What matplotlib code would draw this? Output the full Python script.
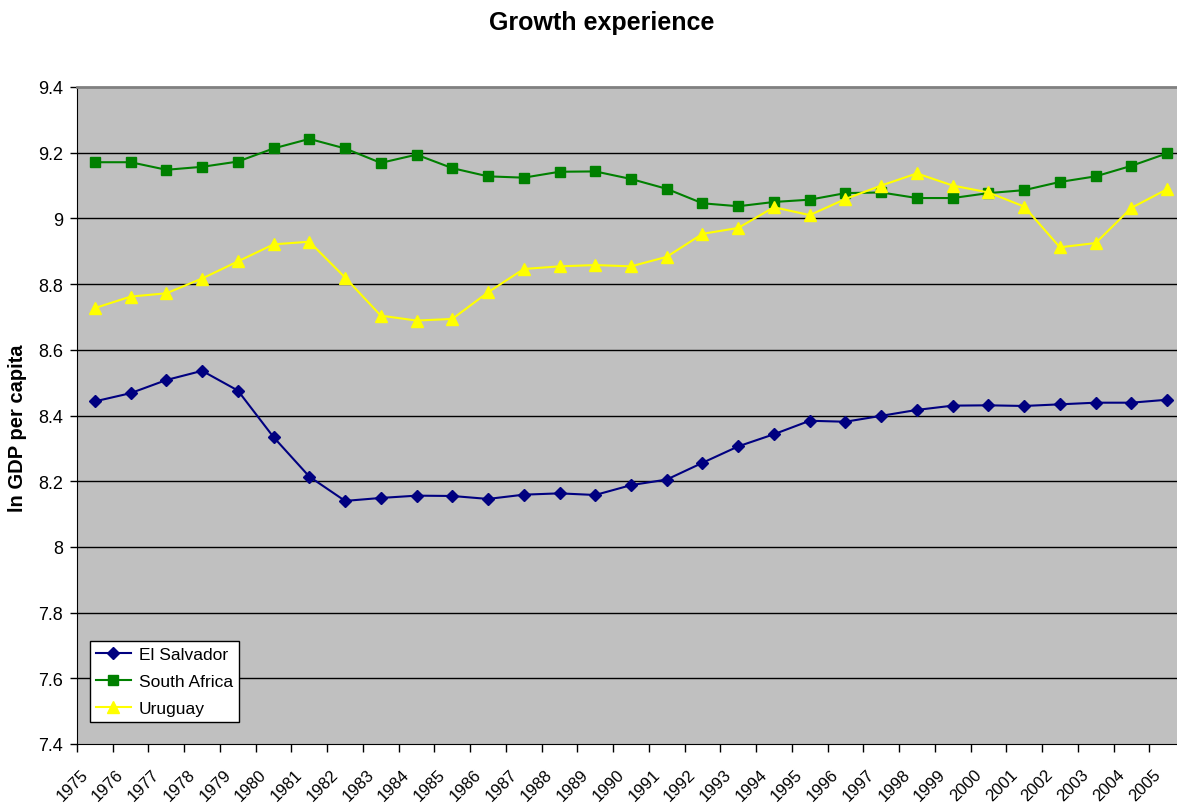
import matplotlib
matplotlib.use("Agg")
import matplotlib.pyplot as plt
import matplotlib.transforms as mtransforms
import numpy as np

plt.rcParams['font.family'] = ['Liberation Sans', 'DejaVu Sans']

years = list(range(1975, 2006))
el_salvador = [8.443, 8.468, 8.508, 8.536, 8.476, 8.334, 8.214, 8.140, 8.149, 8.156,
               8.155, 8.146, 8.159, 8.163, 8.158, 8.188, 8.205, 8.256, 8.306, 8.343,
               8.384, 8.381, 8.399, 8.417, 8.430, 8.431, 8.429, 8.434, 8.439, 8.439, 8.448]
south_africa = [9.171, 9.171, 9.148, 9.157, 9.173, 9.213, 9.242, 9.213, 9.169, 9.194,
                9.153, 9.128, 9.124, 9.142, 9.143, 9.120, 9.090, 9.046, 9.037, 9.050,
                9.057, 9.077, 9.079, 9.062, 9.062, 9.077, 9.086, 9.111, 9.128, 9.160, 9.198]
uruguay = [8.727, 8.762, 8.772, 8.817, 8.869, 8.921, 8.929, 8.820, 8.704, 8.689,
           8.694, 8.775, 8.846, 8.854, 8.858, 8.854, 8.883, 8.953, 8.971, 9.034,
           9.010, 9.059, 9.100, 9.137, 9.100, 9.079, 9.036, 8.912, 8.925, 9.032, 9.089]
y_ticks = [7.4, 7.6, 7.8, 8.0, 8.2, 8.4, 8.6, 8.8, 9.0, 9.2, 9.4]
y_tick_labels = ['7.4', '7.6', '7.8', '8', '8.2', '8.4', '8.6', '8.8', '9', '9.2', '9.4']

W, H = 1177, 804
fig = plt.figure(figsize=(W / 100, H / 100), dpi=100)
ax_w = 1185 - 77
ax_h = 745 - 88
ax = fig.add_axes([77 / W, (H - 745) / H, ax_w / W, ax_h / H])
ax.set_facecolor('#C0C0C0')

x = np.arange(len(years))
ax.plot(x, el_salvador, color='#000080', lw=1.5, marker='D', ms=6.5, label='El Salvador', zorder=3)
ax.plot(x, south_africa, color='#008000', lw=1.5, marker='s', ms=7.5, label='South Africa', zorder=3)
ax.plot(x, uruguay, color='#FFFF00', lw=1.5, marker='^', ms=8.5, label='Uruguay', zorder=3)

ax.set_xlim(-0.5, len(years) - 0.5)
ax.set_ylim(7.4, 9.4)

for v in y_ticks[1:-1]:
    ax.axhline(v, color='black', lw=1.0, zorder=1)

ax.set_yticks(y_ticks)
ax.set_yticklabels(y_tick_labels, fontsize=13)
ax.tick_params(axis='y', direction='out', length=5, width=1, pad=5, colors='black')

ax.set_xticks(x)
ax.set_xticklabels([str(y) for y in years], rotation=45, ha='right', va='top', fontsize=12)
ax.tick_params(axis='x', which='major', length=0, pad=16)
ax.set_xticks(np.arange(-0.5, len(years), 1.0), minor=True)
ax.tick_params(axis='x', which='minor', direction='out', length=6, width=1)
offset = mtransforms.ScaledTranslation(-4 / 100, 0, fig.dpi_scale_trans)
for lab in ax.get_xticklabels():
    lab.set_transform(lab.get_transform() + offset)

ax.spines['top'].set_color('#808080')
ax.spines['top'].set_linewidth(2)
ax.spines['right'].set_visible(False)
ax.spines['left'].set_color('black')
ax.spines['bottom'].set_color('black')

ax.set_ylabel('ln GDP per capita', fontsize=14.5, fontweight='bold')
ax.yaxis.set_label_coords((27 - 77) / ax_w, (745 - 428) / ax_h)
fig.text(602 / W, 1 - 23 / H, 'Growth experience', ha='center', va='center',
         fontsize=18, fontweight='bold')

leg = ax.legend(loc='lower left', bbox_to_anchor=((90 - 77) / ax_w, (745 - 723) / ax_h),
                fontsize=12.5, frameon=True, fancybox=False, borderaxespad=0,
                handlelength=2.0, handletextpad=0.45, borderpad=0.35, labelspacing=0.67)
leg.get_frame().set_edgecolor('black')
leg.get_frame().set_linewidth(1)
leg.get_frame().set_facecolor('white')
leg.get_frame().set_alpha(1)

fig.savefig('out.png', dpi=100)
